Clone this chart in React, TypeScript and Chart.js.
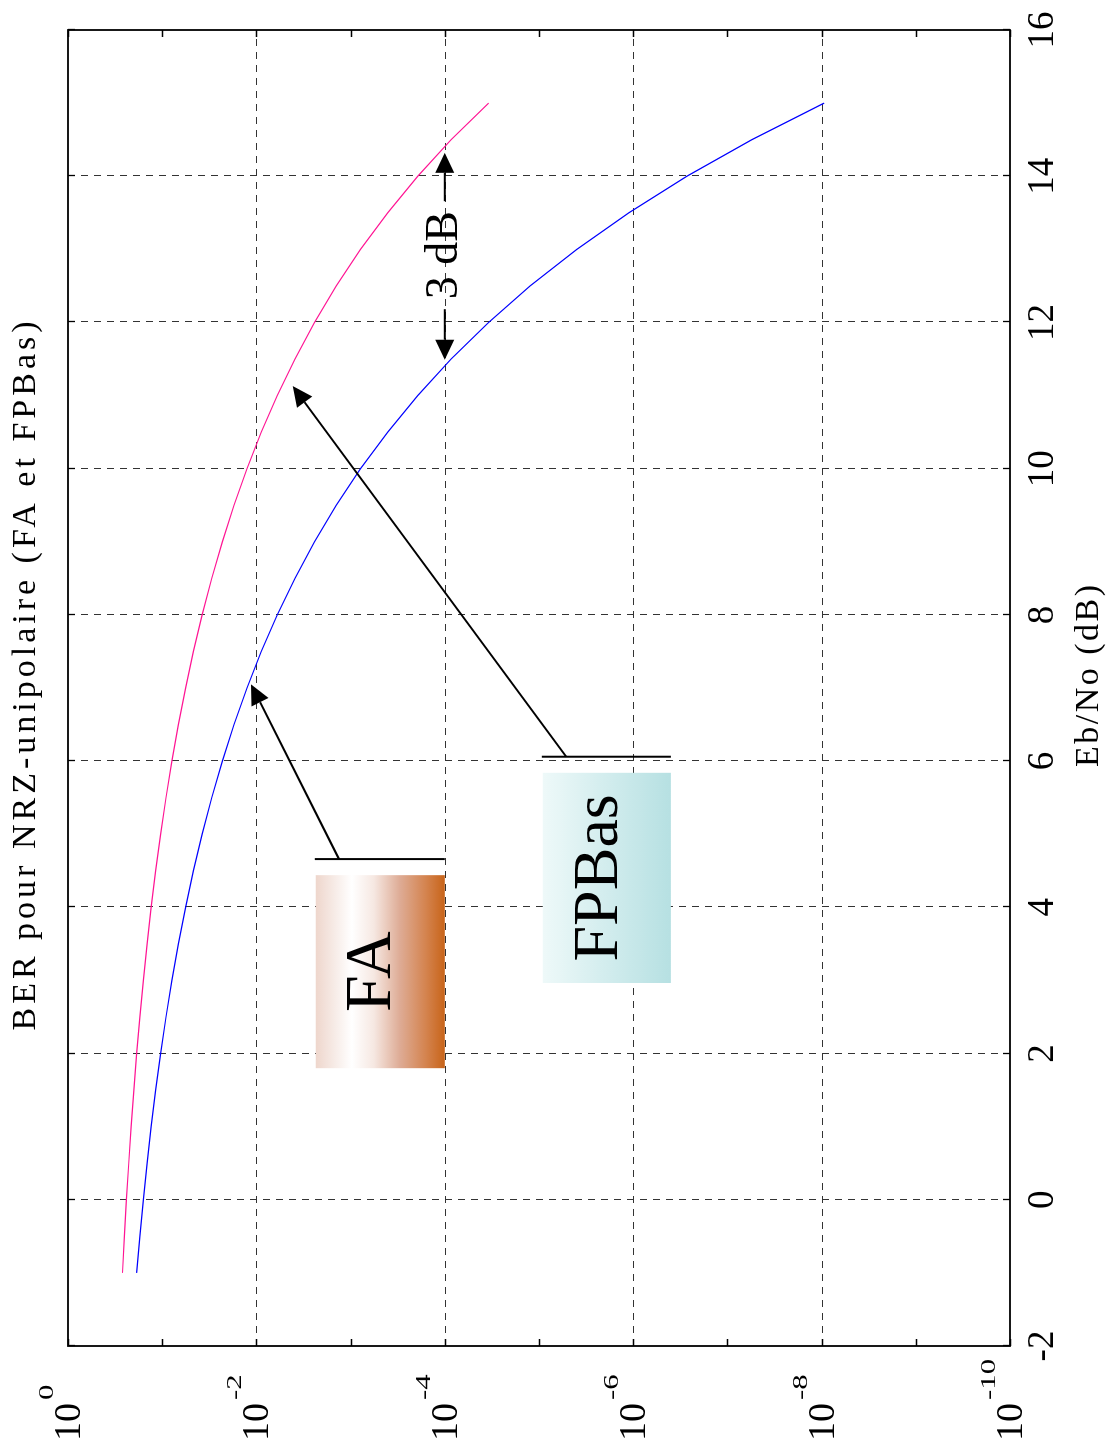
import { useEffect, useRef } from "react";
import { Chart, registerables } from "chart.js";

Chart.register(...registerables);

// ---- Data ----
const EBNO_DB = [
  -1, -0.5, 0, 0.5, 1, 1.5, 2, 2.5, 3, 3.5, 4, 4.5, 5, 5.5, 6, 6.5, 7, 7.5, 8,
  8.5, 9, 9.5, 10, 10.5, 11, 11.5, 12, 12.5, 13, 13.5, 14, 14.5, 15,
];
// FA (blue curve)
const BER_FA = [
  0.1865, 0.1726, 0.1587, 0.1447, 0.1309, 0.1172, 0.104, 0.0911, 0.0788,
  0.0673, 0.0565, 0.0466, 0.0377, 0.0298, 0.023, 0.0173, 0.01258, 0.00887,
  0.006, 0.0039, 0.00242, 0.00142, 7.83e-4, 4.04e-4, 1.94e-4, 8.56e-5,
  3.43e-5, 1.24e-5, 3.97e-6, 1.11e-6, 2.69e-7, 5.5e-8, 9.4e-9,
];
// FPBas (pink curve)
const BER_FPBAS = [
  0.264, 0.252, 0.2395, 0.2266, 0.2136, 0.2001, 0.1865, 0.1726, 0.1587,
  0.1447, 0.1309, 0.1172, 0.104, 0.0911, 0.0788, 0.0673, 0.0565, 0.0466,
  0.0377, 0.0298, 0.023, 0.0173, 0.01258, 0.00887, 0.006, 0.0039, 0.00242,
  0.00142, 7.83e-4, 4.04e-4, 1.94e-4, 8.56e-5, 3.43e-5,
];
const X_TICKS = [-2, 0, 2, 4, 6, 8, 10, 12, 14, 16];
const X_TICK_LABELS = ["-2", "0", "2", "4", "6", "8", "10", "12", "14", "16"];
const Y_TICK_EXPONENTS = [0, -1, -2, -3, -4, -5, -6, -7, -8, -9, -10];
const Y_LABEL_EXPONENTS = [0, -2, -4, -6, -8, -10];
const Y_LABEL_SUPERSCRIPTS = ["0", "-2", "-4", "-6", "-8", "-10"];
const Y_GRID_EXPONENTS = [-2, -4, -6, -8];
const TITLE = "BER pour NRZ-unipolaire (FA et FPBas)";
const X_TITLE = "Eb/No (dB)";
const LABEL_FA = "FA";
const LABEL_FPBAS = "FPBas";
const LABEL_GAP = "3 dB";

const SERIF = '"Liberation Serif", serif';

function drawArrow(
  ctx: CanvasRenderingContext2D,
  x1: number,
  y1: number,
  x2: number,
  y2: number,
  headLen = 20,
  headHalf = 9.5
) {
  const ang = Math.atan2(y2 - y1, x2 - x1);
  const bx = x2 - headLen * Math.cos(ang);
  const by = y2 - headLen * Math.sin(ang);
  ctx.beginPath();
  ctx.moveTo(x1, y1);
  ctx.lineTo(bx, by);
  ctx.stroke();
  ctx.beginPath();
  ctx.moveTo(x2, y2);
  ctx.lineTo(bx + headHalf * Math.sin(ang), by - headHalf * Math.cos(ang));
  ctx.lineTo(bx - headHalf * Math.sin(ang), by + headHalf * Math.cos(ang));
  ctx.closePath();
  ctx.fill();
}

function textCentered(
  ctx: CanvasRenderingContext2D,
  text: string,
  cx: number,
  y: number,
  spacing: number
) {
  (ctx as any).letterSpacing = spacing + "px";
  const w = ctx.measureText(text).width - spacing;
  ctx.textAlign = "left";
  ctx.fillText(text, cx - w / 2, y);
  (ctx as any).letterSpacing = "0px";
}

const framePlugin = {
  id: "frame",
  beforeDatasetsDraw(chart: any) {
    const { ctx, chartArea: a, scales } = chart;
    const xs = scales.x;
    const ys = scales.y;
    ctx.save();
    // dashed grid
    ctx.strokeStyle = "#333";
    ctx.lineWidth = 1;
    ctx.setLineDash([7, 6]);
    for (const t of X_TICKS) {
      if (t === X_TICKS[0] || t === X_TICKS[X_TICKS.length - 1]) continue;
      const px = Math.round(xs.getPixelForValue(t)) + 0.5;
      ctx.beginPath();
      ctx.moveTo(px, a.top);
      ctx.lineTo(px, a.bottom);
      ctx.stroke();
    }
    for (const e of Y_GRID_EXPONENTS) {
      const py = Math.round(ys.getPixelForValue(Math.pow(10, e))) + 0.5;
      ctx.beginPath();
      ctx.moveTo(a.left, py);
      ctx.lineTo(a.right, py);
      ctx.stroke();
    }
    ctx.setLineDash([]);
    // inner ticks
    ctx.strokeStyle = "#000";
    ctx.lineWidth = 1.3;
    const tl = 7;
    for (const t of X_TICKS) {
      const px = Math.round(xs.getPixelForValue(t)) + 0.5;
      ctx.beginPath();
      ctx.moveTo(px, a.bottom);
      ctx.lineTo(px, a.bottom - tl);
      ctx.moveTo(px, a.top);
      ctx.lineTo(px, a.top + tl);
      ctx.stroke();
    }
    for (const e of Y_TICK_EXPONENTS) {
      const py = Math.round(ys.getPixelForValue(Math.pow(10, e))) + 0.5;
      ctx.beginPath();
      ctx.moveTo(a.left, py);
      ctx.lineTo(a.left + tl, py);
      ctx.moveTo(a.right, py);
      ctx.lineTo(a.right - tl, py);
      ctx.stroke();
    }
    ctx.restore();
  },
  afterDatasetsDraw(chart: any) {
    const { ctx, chartArea: a, scales } = chart;
    const xs = scales.x;
    const ys = scales.y;
    const X = (v: number) => xs.getPixelForValue(v);
    const Y = (lg: number) => ys.getPixelForValue(Math.pow(10, lg));
    ctx.save();

    // border
    ctx.strokeStyle = "#000";
    ctx.lineWidth = 1.8;
    ctx.strokeRect(a.left, a.top, a.right - a.left, a.bottom - a.top);

    // ---- FA box ----
    {
      const l = X(1.8), r = X(4.44), t = Y(-2.63), b = Y(-4);
      const g = ctx.createLinearGradient(0, t, 0, b);
      g.addColorStop(0, "rgb(238,214,204)");
      g.addColorStop(0.28, "rgb(255,255,255)");
      g.addColorStop(0.45, "rgb(246,232,226)");
      g.addColorStop(0.65, "rgb(222,172,150)");
      g.addColorStop(0.85, "rgb(212,132,80)");
      g.addColorStop(1, "rgb(200,100,25)");
      ctx.fillStyle = g;
      ctx.fillRect(l, t, r - l, b - t);
      ctx.fillStyle = "#000";
      ctx.font = "66px " + SERIF;
      ctx.textBaseline = "alphabetic";
      textCentered(ctx, LABEL_FA, (l + r) / 2, (t + b) / 2 + 10, 1);
      // bar above box
      ctx.strokeStyle = "#000";
      ctx.lineWidth = 2;
      const lx = X(4.66);
      ctx.beginPath();
      ctx.moveTo(lx, Y(-2.62));
      ctx.lineTo(lx, Y(-4));
      ctx.stroke();
      drawArrow(ctx, lx, Y(-2.877), X(7.05), Y(-1.943));
    }

    // ---- FPBas box ----
    {
      const l = X(2.965), r = X(5.84), t = Y(-5.04), b = Y(-6.4);
      const g = ctx.createLinearGradient(0, t, 0, b);
      g.addColorStop(0, "rgb(238,249,249)");
      g.addColorStop(1, "rgb(182,224,226)");
      ctx.fillStyle = g;
      ctx.fillRect(l, t, r - l, b - t);
      ctx.fillStyle = "#000";
      ctx.font = "64px " + SERIF;
      ctx.textBaseline = "alphabetic";
      textCentered(ctx, LABEL_FPBAS, (l + r) / 2, (t + b) / 2 + 10, 0);
      ctx.strokeStyle = "#000";
      ctx.lineWidth = 2;
      const lx = X(6.06);
      ctx.beginPath();
      ctx.moveTo(lx, Y(-5.03));
      ctx.lineTo(lx, Y(-6.4));
      ctx.stroke();
      drawArrow(ctx, lx, Y(-5.29), X(11.13), Y(-2.385));
    }

    // ---- 3 dB double arrow ----
    {
      const py = Y(-4);
      const cx = X(12.92);
      ctx.font = "46px " + SERIF;
      ctx.fillStyle = "#000";
      ctx.textBaseline = "middle";
      textCentered(ctx, LABEL_GAP, cx, py, 0);
      ctx.strokeStyle = "#000";
      ctx.lineWidth = 2;
      drawArrow(ctx, cx - 54, py, X(11.49), py);
      drawArrow(ctx, cx + 54, py, X(14.32), py);
    }

    // ---- text: title, axis title, tick labels ----
    ctx.fillStyle = "#000";
    ctx.textBaseline = "alphabetic";
    const midX = 776;
    ctx.font = "34px " + SERIF;
    textCentered(ctx, TITLE, midX, 35, 4);
    ctx.font = "34px " + SERIF;
    textCentered(ctx, X_TITLE, midX, 1098, 2.5);

    ctx.font = "37px " + SERIF;
    X_TICKS.forEach((t, i) => {
      textCentered(ctx, X_TICK_LABELS[i], X(t), 1053, 0);
    });

    Y_LABEL_EXPONENTS.forEach((e, i) => {
      const py = Y(e);
      ctx.font = "38px " + SERIF;
      ctx.textAlign = "left";
      ctx.fillText("10", 11, py + 12);
      const w = ctx.measureText("10").width;
      ctx.font = "22px " + SERIF;
      ctx.save();
      ctx.translate(11 + w + 3, py - 15);
      ctx.scale(1.4, 1);
      ctx.fillText(Y_LABEL_SUPERSCRIPTS[i], 0, 0);
      ctx.restore();
    });

    ctx.restore();
  },
};

export default function App() {
  const ref = useRef<HTMLCanvasElement | null>(null);
  useEffect(() => {
    if (!ref.current) return;
    const chart = new Chart(ref.current, {
      type: "line",
      data: {
        datasets: [
          {
            label: LABEL_FPBAS,
            data: EBNO_DB.map((x, i) => ({ x, y: BER_FPBAS[i] })),
            borderColor: "#ff1493",
            borderWidth: 1.2,
            pointRadius: 0,
            fill: false,
            tension: 0,
          },
          {
            label: LABEL_FA,
            data: EBNO_DB.map((x, i) => ({ x, y: BER_FA[i] })),
            borderColor: "#0000ff",
            borderWidth: 1.2,
            pointRadius: 0,
            fill: false,
            tension: 0,
          },
        ],
      },
      options: {
        responsive: false,
        animation: false,
        devicePixelRatio: 1,
        layout: { padding: { left: 106, right: 30, top: 68, bottom: 99 } },
        plugins: {
          legend: { display: false },
          tooltip: { enabled: false },
          title: { display: false },
        },
        scales: {
          x: { type: "linear", min: -2, max: 16, display: false },
          y: { type: "logarithmic", min: 1e-10, max: 1, display: false },
        },
      },
      plugins: [framePlugin],
    } as any);
    return () => chart.destroy();
  }, []);

  return (
    <div
      style={{
        position: "fixed",
        left: 0,
        top: 0,
        width: 1109,
        height: 1452,
        overflow: "hidden",
        background: "#fff",
      }}
    >
      <div
        style={{
          position: "absolute",
          left: 0,
          top: 0,
          width: 1452,
          height: 1109,
          transformOrigin: "0 0",
          transform: "translateY(1452px) rotate(-90deg)",
        }}
      >
        <canvas
          ref={ref}
          width={1452}
          height={1109}
          style={{ display: "block", width: 1452, height: 1109 }}
        />
      </div>
    </div>
  );
}
